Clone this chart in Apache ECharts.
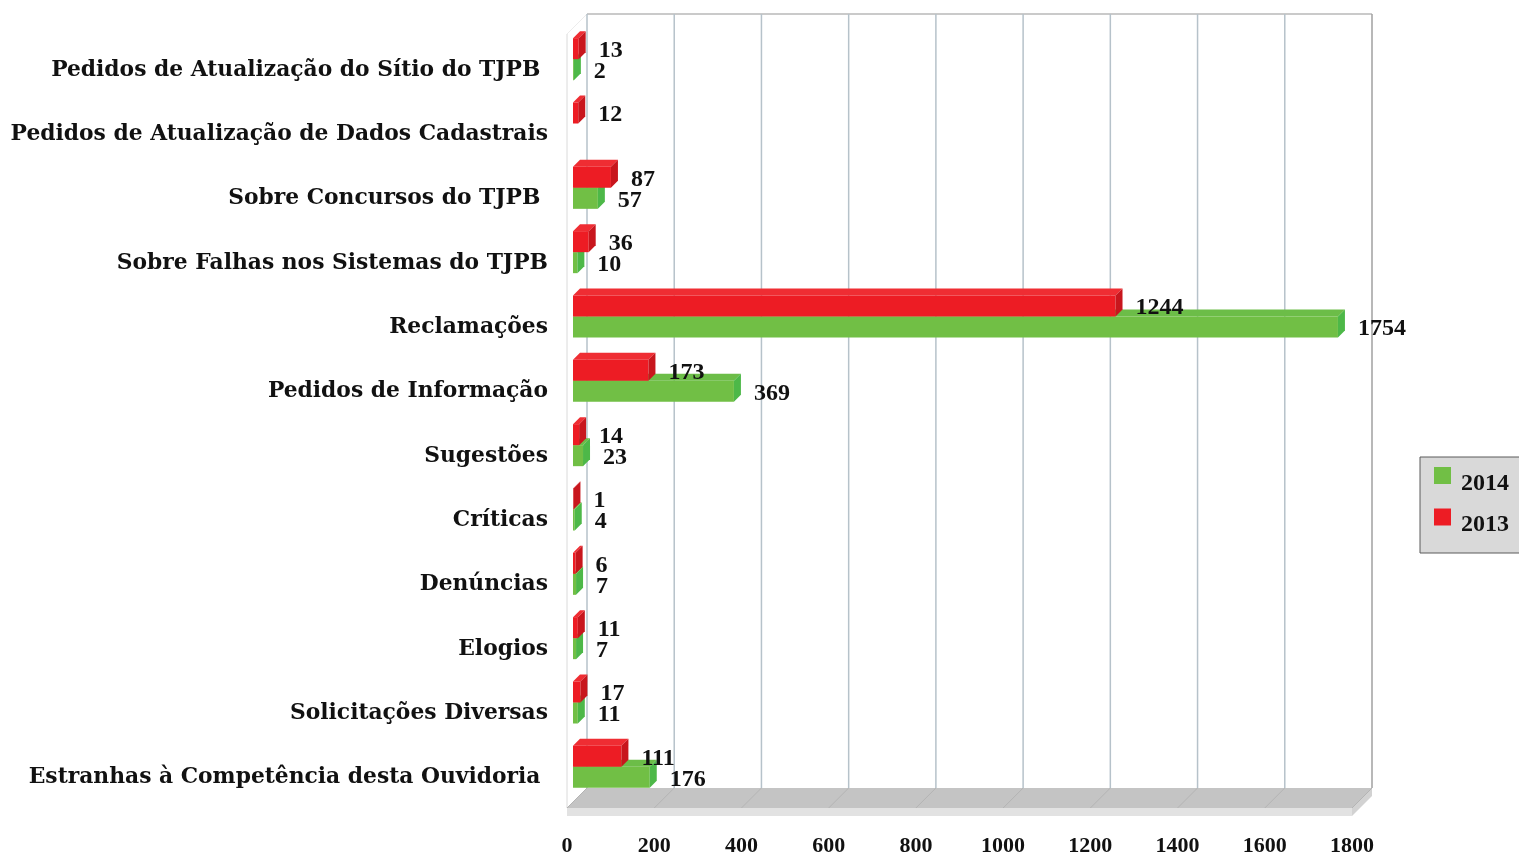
<!DOCTYPE html>
<html>
<head>
<meta charset="utf-8">
<script src="https://cdn.jsdelivr.net/npm/echarts@6/dist/echarts.min.js"></script>
<style>
  html, body { margin: 0; padding: 0; background: #fff; }
  #chart { width: 1519px; height: 857px; }
</style>
</head>
<body>
<div id="chart"></div>
<script>
const categories = [
  "Pedidos de Atualização do Sítio do TJPB ",
  "Pedidos de Atualização de Dados Cadastrais",
  "Sobre Concursos do TJPB ",
  "Sobre Falhas nos Sistemas do TJPB",
  "Reclamações",
  "Pedidos de Informação",
  "Sugestões",
  "Críticas",
  "Denúncias",
  "Elogios",
  "Solicitações Diversas",
  "Estranhas à Competência desta Ouvidoria "
];
const values2013 = [13, 12, 87, 36, 1244, 173, 14, 1, 6, 11, 17, 111];
const values2014 = [2, null, 57, 10, 1754, 369, 23, 4, 7, 7, 11, 176];
const xTicks = [0, 200, 400, 600, 800, 1000, 1200, 1400, 1600, 1800];

const FONT = "DejaVu Serif";
const NUMFONT = "Liberation Serif";
const COLORS = {
  '2013': { front: '#ed1c24', top: '#ef2d33', side: '#c8161d' },
  '2014': { front: '#71bf45', top: '#6cbd48', side: '#4db848' }
};

const chart = echarts.init(document.getElementById('chart'));

function frameItem(params, api) {
  const cs = params.coordSys;
  const D = 20;
  const wallTop = cs.y - 22;
  const floorFront = cs.y + cs.height;
  const floorBack = floorFront - D;
  const v = api.value(0);
  const x = api.coord([v, 0])[0];
  const children = [];
  if (params.dataIndex === 0) {
    const xL = cs.x, xR = cs.x + cs.width;
    children.push({ type: 'polygon', shape: { points: [[xL + D, floorBack], [xR + D, floorBack], [xR, floorFront], [xL, floorFront]] }, style: { fill: '#c4c4c4' } });
    children.push({ type: 'polygon', shape: { points: [[xL, floorFront], [xR, floorFront], [xR, floorFront + 8], [xL, floorFront + 8]] }, style: { fill: '#e2e2e2' } });
    children.push({ type: 'polygon', shape: { points: [[xR, floorFront], [xR + D, floorBack], [xR + D, floorBack + 8], [xR, floorFront + 8]] }, style: { fill: '#d2d2d2' } });
    children.push({ type: 'line', shape: { x1: xL + D, y1: wallTop, x2: xR + D, y2: wallTop }, style: { stroke: '#b8b8b8', lineWidth: 1.5 } });
    children.push({ type: 'line', shape: { x1: xL, y1: wallTop + D, x2: xL, y2: floorFront }, style: { stroke: '#dadada', lineWidth: 1 } });
    children.push({ type: 'line', shape: { x1: xL, y1: wallTop + D, x2: xL + D, y2: wallTop }, style: { stroke: '#ececec', lineWidth: 1 } });
  }
  children.push({ type: 'line', shape: { x1: x + D, y1: wallTop, x2: x + D, y2: floorBack }, style: { stroke: params.dataIndex === xTicks.length - 1 ? '#a0a0a0' : '#b6c2ca', lineWidth: 1.5 } });
  children.push({ type: 'line', shape: { x1: x + D, y1: floorBack, x2: x, y2: floorFront }, style: { stroke: '#b4b4b4', lineWidth: 1 } });
  return { type: 'group', children: children };
}

function makeBarRender(year) {
  const c = COLORS[year];
  return function (params, api) {
    const v = api.value(0), i = api.value(1);
    const p0 = api.coord([0, i]);
    const p1 = api.coord([v, i]);
    const off = 6, d = 7, h = 21;
    const cy = p0[1] - 9;
    const x0 = p0[0] + off, x1 = p1[0] + off;
    const yT = year === '2013' ? cy - h : cy;
    const yB = yT + h;
    return {
      type: 'group',
      children: [
        { type: 'polygon', shape: { points: [[x0, yT], [x1, yT], [x1 + d, yT - d], [x0 + d, yT - d]] }, style: { fill: c.top } },
        { type: 'rect', shape: { x: x0, y: yT, width: x1 - x0, height: h }, style: { fill: c.front } },
        { type: 'polygon', shape: { points: [[x1, yT], [x1 + d, yT - d], [x1 + d, yB - d], [x1, yB]] }, style: { fill: c.side } },
        { type: 'text', z2: 100, style: { text: String(v), x: x1 + 20, y: (yT + yB) / 2 + 2, verticalAlign: 'middle', align: 'left', fill: '#111', font: 'bold 24px "' + NUMFONT + '"' } }
      ]
    };
  };
}

function seriesData(vals) {
  const out = [];
  vals.forEach((v, i) => { if (v !== null) out.push([v, i]); });
  return out;
}

chart.setOption({
  animation: false,
  backgroundColor: '#ffffff',
  grid: { left: 567, top: 36, width: 785, height: 774 },
  legend: {
    orient: 'vertical',
    left: 1420, top: 457,
    data: ['2014', '2013'],
    icon: 'rect',
    itemWidth: 17, itemHeight: 17, itemGap: 13,
    backgroundColor: '#d9d9d9',
    borderColor: '#5a5a5a', borderWidth: 1,
    padding: [10, 40, 16, 14],
    formatter: function (name) { return '{t|' + name + '}'; },
    textStyle: {
      color: '#111',
      rich: { t: { fontFamily: NUMFONT, fontWeight: 'bold', fontSize: 24, color: '#111', padding: [16, 0, 0, 5] } }
    }
  },
  xAxis: {
    type: 'value', min: 0, max: 1800, interval: 200,
    axisLine: { show: false }, axisTick: { show: false }, splitLine: { show: false },
    axisLabel: { margin: 27, fontFamily: NUMFONT, fontWeight: 'bold', fontSize: 22, color: '#111', formatter: function (v) { return String(v); } }
  },
  yAxis: {
    type: 'category', inverse: true, data: categories,
    axisLine: { show: false }, axisTick: { show: false },
    axisLabel: {
      margin: 19,
      formatter: function (v) { return '{c|' + v + '}'; },
      rich: { c: { fontFamily: FONT, fontWeight: 'bold', fontSize: 21.8, color: '#111', padding: [4, 0, 0, 0] } }
    }
  },
  series: [
    { type: 'custom', name: 'frame', data: xTicks.map(t => [t]), encode: { x: 0 }, renderItem: frameItem, silent: true, z: 1 },
    { type: 'custom', name: '2014', data: seriesData(values2014), encode: { x: 0, y: 1 }, renderItem: makeBarRender('2014'), itemStyle: { color: COLORS['2014'].front }, z: 2 },
    { type: 'custom', name: '2013', data: seriesData(values2013), encode: { x: 0, y: 1 }, renderItem: makeBarRender('2013'), itemStyle: { color: COLORS['2013'].front }, z: 3 }
  ]
});
</script>
</body>
</html>
